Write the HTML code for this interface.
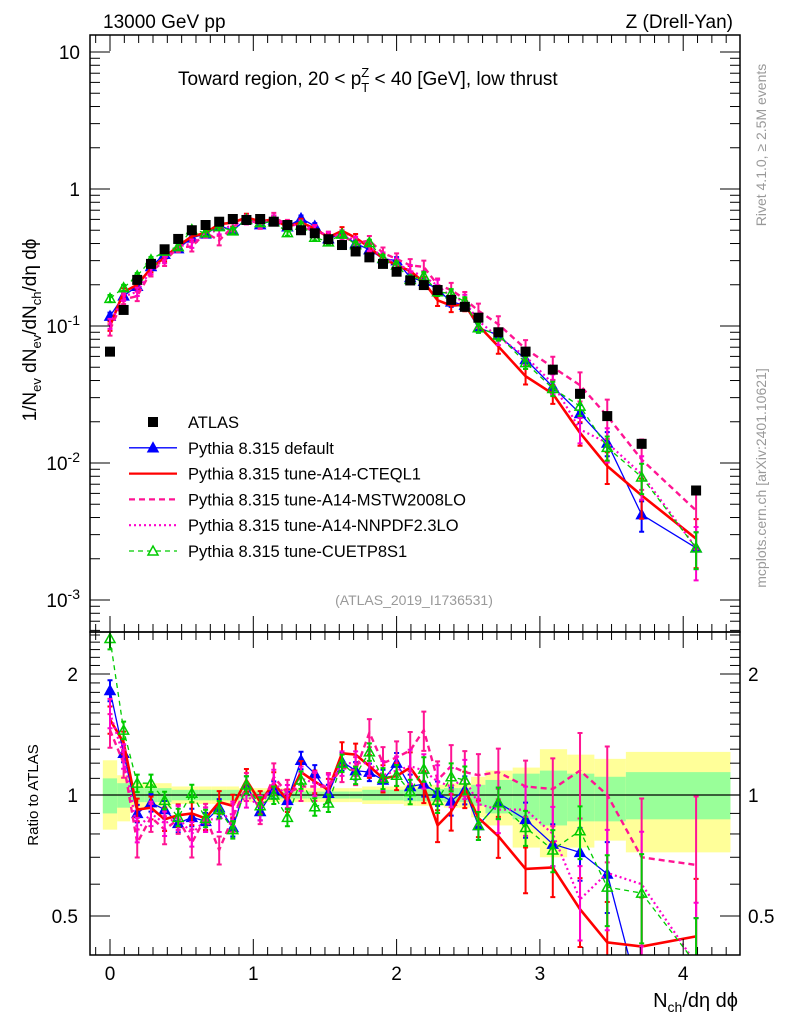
<!DOCTYPE html>
<html><head><meta charset="utf-8">
<style>
html,body{margin:0;padding:0;background:#fff;}
svg{display:block;font-family:"Liberation Sans",sans-serif;}
</style></head>
<body>
<svg id="chartSvg" width="786" height="1024" viewBox="0 0 786 1024">
<defs>
<clipPath id="clipMain"><rect x="90" y="35" width="650" height="597"/></clipPath>
<clipPath id="clipRatio"><rect x="90" y="632" width="650" height="323"/></clipPath>
</defs>
<g id="gBands" clip-path="url(#clipRatio)"></g>
<g id="gMain" clip-path="url(#clipMain)"></g>
<g id="gRatio" clip-path="url(#clipRatio)"></g>
<g id="gAxes"></g>
<text x="103" y="28" font-size="19">13000 GeV pp</text>
<text x="733" y="28" font-size="19" text-anchor="end">Z (Drell-Yan)</text>
<text x="178" y="85" font-size="19">Toward region, 20 &lt; p<tspan font-size="13" dy="7">T</tspan><tspan font-size="13" dx="-8" dy="-15">Z</tspan><tspan dy="8"> &lt; 40 [GeV], low thrust</tspan></text>
<text x="414" y="605" font-size="14" fill="#999" text-anchor="middle">(ATLAS_2019_I1736531)</text>
<text transform="translate(766,145) rotate(-90)" font-size="14" fill="#999" text-anchor="middle">Rivet 4.1.0, ≥ 2.5M events</text>
<text transform="translate(766,478) rotate(-90)" font-size="14" fill="#999" text-anchor="middle">mcplots.cern.ch [arXiv:2401.10621]</text>
<text transform="translate(36,330) rotate(-90)" font-size="19" text-anchor="middle">1/N<tspan font-size="13" dy="5">ev</tspan><tspan dy="-5"> dN</tspan><tspan font-size="13" dy="5">ev</tspan><tspan dy="-5">/dN</tspan><tspan font-size="13" dy="5">ch</tspan><tspan dy="-5">/dη dϕ</tspan></text>
<text transform="translate(38,795) rotate(-90)" font-size="15" text-anchor="middle">Ratio to ATLAS</text>
<text x="738" y="1007" font-size="20" text-anchor="end">N<tspan font-size="14" dy="5">ch</tspan><tspan dy="-5">/dη dϕ</tspan></text>
<g id="gLegend"></g>
</svg>
<script>
var xVals=[0,0.095,0.19,0.286,0.381,0.476,0.571,0.667,0.762,0.857,0.952,1.048,1.143,1.238,1.333,1.429,1.524,1.619,1.714,1.81,1.905,2.0,2.095,2.19,2.286,2.381,2.476,2.571,2.71,2.9,3.09,3.28,3.47,3.71,4.09];
var binEdges=[-0.05,0.05,0.14,0.24,0.33,0.43,0.52,0.62,0.71,0.81,0.9,1.0,1.1,1.19,1.29,1.38,1.48,1.57,1.67,1.76,1.86,1.95,2.05,2.14,2.24,2.33,2.43,2.52,2.62,2.81,3.0,3.19,3.38,3.6,3.88,4.33];
var atlas=[0.065,0.131,0.217,0.284,0.363,0.432,0.50,0.546,0.577,0.604,0.594,0.604,0.577,0.546,0.50,0.475,0.43,0.39,0.35,0.317,0.284,0.249,0.215,0.199,0.183,0.155,0.138,0.115,0.09,0.065,0.048,0.032,0.022,0.0138,0.0063];
var mcDefault=[0.118,0.166,0.195,0.272,0.334,0.367,0.44,0.47,0.537,0.501,0.60,0.55,0.594,0.53,0.61,0.537,0.434,0.472,0.40,0.361,0.31,0.30,0.226,0.212,0.185,0.150,0.142,0.097,0.086,0.057,0.036,0.023,0.014,0.0042,0.0024];
var mcCTEQ=[0.100,0.177,0.20,0.264,0.316,0.384,0.45,0.478,0.554,0.568,0.62,0.58,0.60,0.53,0.57,0.513,0.443,0.495,0.441,0.374,0.312,0.278,0.252,0.209,0.154,0.141,0.143,0.101,0.071,0.043,0.032,0.0166,0.0095,0.0058,0.0028];
var mcMSTW=[0.094,0.157,0.165,0.25,0.298,0.376,0.38,0.48,0.421,0.532,0.60,0.556,0.62,0.551,0.525,0.499,0.452,0.456,0.403,0.42,0.341,0.309,0.277,0.27,0.2,0.183,0.157,0.129,0.103,0.068,0.050,0.037,0.022,0.0106,0.0045];
var mcNNPDF=[0.104,0.164,0.178,0.256,0.309,0.38,0.40,0.475,0.502,0.544,0.594,0.562,0.60,0.541,0.55,0.508,0.452,0.468,0.42,0.38,0.318,0.286,0.254,0.229,0.198,0.163,0.152,0.109,0.083,0.060,0.038,0.0176,0.014,0.0083,0.0024];
var mcCUETP=[0.159,0.19,0.232,0.304,0.352,0.38,0.505,0.478,0.531,0.495,0.60,0.568,0.577,0.48,0.545,0.444,0.411,0.468,0.392,0.406,0.312,0.279,0.219,0.231,0.178,0.172,0.15,0.097,0.086,0.054,0.035,0.026,0.013,0.0079,0.0024];
var rDefault=[1.82,1.27,0.90,0.957,0.92,0.85,0.88,0.86,0.93,0.83,1.06,0.91,1.03,0.97,1.22,1.13,1.01,1.21,1.15,1.14,1.09,1.2,1.05,1.065,1.01,0.966,1.03,0.84,0.957,0.87,0.755,0.72,0.636,0.30,0.38];
var rCTEQ=[1.54,1.35,0.92,0.93,0.87,0.89,0.90,0.875,0.96,0.94,1.09,0.96,1.07,0.97,1.14,1.08,1.03,1.27,1.26,1.18,1.10,1.115,1.17,1.05,0.84,0.91,1.035,0.877,0.79,0.655,0.66,0.52,0.43,0.42,0.445];
var rMSTW=[1.45,1.2,0.76,0.88,0.82,0.87,0.76,0.88,0.73,0.88,1.05,0.92,1.11,1.01,1.05,1.05,1.05,1.17,1.15,1.43,1.2,1.24,1.29,1.45,1.09,1.18,1.14,1.12,1.14,1.05,1.035,1.15,1.0,0.70,0.67];
var rNNPDF=[1.6,1.25,0.82,0.9,0.85,0.88,0.8,0.87,0.87,0.9,1.0,0.93,1.08,0.99,1.1,1.07,1.05,1.2,1.2,1.2,1.12,1.15,1.18,1.15,1.08,1.05,1.1,0.95,0.92,0.92,0.8,0.55,0.64,0.6,0.38];
var rCUETP=[2.45,1.45,1.07,1.07,0.97,0.88,1.01,0.875,0.92,0.82,1.06,0.94,1.0,0.88,1.09,0.935,0.955,1.2,1.12,1.28,1.10,1.12,1.02,1.16,0.97,1.11,1.09,0.84,0.957,0.83,0.73,0.815,0.59,0.57,0.38];
var relErr=[0.06,0.05,0.05,0.05,0.05,0.05,0.05,0.05,0.05,0.05,0.05,0.05,0.05,0.05,0.05,0.05,0.05,0.05,0.05,0.05,0.06,0.06,0.07,0.07,0.07,0.08,0.08,0.08,0.09,0.1,0.12,0.15,0.2,0.25,0.3];
var yellowHi=[1.22,1.12,1.07,1.07,1.07,1.05,1.05,1.05,1.05,1.05,1.04,1.04,1.04,1.04,1.04,1.04,1.04,1.04,1.04,1.05,1.05,1.05,1.06,1.06,1.06,1.07,1.07,1.11,1.15,1.17,1.30,1.26,1.23,1.28,1.28];
var yellowLo=[0.82,0.86,0.93,0.93,0.93,0.95,0.95,0.95,0.95,0.95,0.96,0.96,0.96,0.96,0.96,0.96,0.96,0.96,0.96,0.95,0.95,0.95,0.94,0.94,0.94,0.93,0.93,0.88,0.84,0.74,0.70,0.74,0.77,0.72,0.72];
var greenHi=[1.10,1.07,1.04,1.04,1.04,1.03,1.03,1.03,1.03,1.03,1.02,1.02,1.02,1.02,1.02,1.02,1.02,1.02,1.02,1.03,1.03,1.03,1.035,1.035,1.035,1.04,1.04,1.06,1.09,1.13,1.15,1.13,1.11,1.14,1.14];
var greenLo=[0.90,0.93,0.96,0.96,0.96,0.97,0.97,0.97,0.97,0.97,0.98,0.98,0.98,0.98,0.98,0.98,0.98,0.98,0.98,0.97,0.97,0.97,0.965,0.965,0.965,0.96,0.96,0.94,0.90,0.87,0.84,0.86,0.86,0.87,0.87];
var xTicks=[0,1,2,3,4];
var mainTickVals=[10,1,0.1,0.01,0.001];
var ratioTickVals=[2,1,0.5];

var SVGNS='http://www.w3.org/2000/svg';
var pL=90,pR=740,pT=35,pMB=632,pRB=955;
function xScale(v){return 110+v*143.3;}
function yMain(v){return 189-137*Math.log10(v);}
function yRatio(v){return 795-174.6*Math.log(v);}
function makeEl(tag,attrs,parent){var el=document.createElementNS(SVGNS,tag);for(var k in attrs){el.setAttribute(k,attrs[k]);}parent.appendChild(el);return el;}
var gBands=document.getElementById('gBands'),gMain=document.getElementById('gMain'),gRatio=document.getElementById('gRatio'),gAxes=document.getElementById('gAxes'),gLegend=document.getElementById('gLegend');

function drawBands(){
 for(var i=0;i<xVals.length;i++){
  var x0=xScale(binEdges[i]),x1=xScale(binEdges[i+1]);
  var yb=makeEl('rect',{x:x0,y:yRatio(yellowHi[i]),width:x1-x0,height:yRatio(yellowLo[i])-yRatio(yellowHi[i]),fill:'#ffff99'},gBands);
  
  
  var gb=makeEl('rect',{x:x0,y:yRatio(greenHi[i]),width:x1-x0,height:yRatio(greenLo[i])-yRatio(greenHi[i]),fill:'#99ff99'},gBands);
  
  
 }
 var ref=makeEl('line',{x1:pL,x2:pR,y1:yRatio(1),y2:yRatio(1),stroke:'#000','stroke-width':1.2},gBands);
 
 
}
var seriesList=[
 {name:'default',main:mcDefault,r:rDefault,col:'#0000ff',w:1.3,dash:'none',marker:'tri',ef:1},
 {name:'cteql1',main:mcCTEQ,r:rCTEQ,col:'#ff0000',w:2.6,dash:'none',marker:'',ef:1.3},
 {name:'mstw2008lo',main:mcMSTW,r:rMSTW,col:'#ff1493',w:2.4,dash:'6,4',marker:'',ef:1.6},
 {name:'nnpdf23lo',main:mcNNPDF,r:rNNPDF,col:'#ff00cc',w:2.2,dash:'2,3',marker:'',ef:1.4},
 {name:'cuetp8s1',main:mcCUETP,r:rCUETP,col:'#00cc00',w:1.3,dash:'5,4',marker:'otri',ef:1}
];
function drawSeries(s,vals,yFn,parent,label){
 var g=makeEl('g',{},parent);
 
 
 var d='';
 for(var i=0;i<vals.length;i++){d+=(i?'L':'M')+xScale(xVals[i]).toFixed(1)+','+yFn(vals[i]).toFixed(1);}
 makeEl('path',{d:d,fill:'none',stroke:s.col,'stroke-width':s.w,'stroke-dasharray':s.dash},g);
 for(var j=0;j<vals.length;j++){
  var v=vals[j],er=relErr[j]*s.ef,x=xScale(xVals[j]);
  var ya=yFn(v*(1+er)),yb=yFn(Math.max(v*(1-er),1e-6));
  makeEl('path',{d:'M'+x+','+ya+'V'+yb+'M'+(x-2.5)+','+ya+'h5M'+(x-2.5)+','+yb+'h5',stroke:s.col,'stroke-width':2,fill:'none'},g);
  if(s.marker){
   var yy=yFn(v);
   var tri=makeEl('path',{d:'M'+(x-5)+','+(yy+4)+'L'+(x+5)+','+(yy+4)+'L'+x+','+(yy-5)+'Z',fill:(s.marker==='tri'?s.col:'none'),stroke:s.col,'stroke-width':1.5},g);
   
   
  }
 }
}
function drawData(){
 for(var k=0;k<seriesList.length;k++){drawSeries(seriesList[k],seriesList[k].main,yMain,gMain,'main');}
 for(var k2=0;k2<seriesList.length;k2++){drawSeries(seriesList[k2],seriesList[k2].r,yRatio,gRatio,'ratio');}
 var gAt=makeEl('g',{},gMain);
 
 
 for(var i=0;i<atlas.length;i++){
  var r=makeEl('rect',{x:xScale(xVals[i])-5,y:yMain(atlas[i])-5,width:10,height:10,fill:'#000'},gAt);
  
  
 }
}
function drawAxes(){
 var frames=[[pT,pMB],[pMB,pRB]];
 for(var f=0;f<2;f++){
  var fr=makeEl('rect',{x:pL,y:frames[f][0],width:pR-pL,height:frames[f][1]-frames[f][0],fill:'none',stroke:'#000','stroke-width':1.5},gAxes);
  
  
 }
 for(var n=-1;n<=44;n++){
  var vv=n/10,x=xScale(vv);
  if(x<pL||x>pR)continue;
  var len=(n%10===0)?16:8;
  makeEl('line',{x1:x,x2:x,y1:pT,y2:pT+len,stroke:'#000'},gAxes);
  makeEl('line',{x1:x,x2:x,y1:pMB,y2:pMB+len,stroke:'#000'},gAxes);
  makeEl('line',{x1:x,x2:x,y1:pMB,y2:pMB-len,stroke:'#000'},gAxes);
  makeEl('line',{x1:x,x2:x,y1:pRB,y2:pRB-len,stroke:'#000'},gAxes);
 }
 for(var t=0;t<xTicks.length;t++){
  var tx=makeEl('text',{x:xScale(xTicks[t]),y:980,'font-size':19,'text-anchor':'middle'},gAxes);
  tx.textContent=String(xTicks[t]);
  
  
 }
 for(var e=-4;e<=1;e++){for(var m=1;m<10;m++){
  var y=yMain(m*Math.pow(10,e));
  if(y<pT||y>pMB)continue;
  var l2=(m===1)?20:10;
  makeEl('line',{x1:pL,x2:pL+l2,y1:y,y2:y,stroke:'#000'},gAxes);
  makeEl('line',{x1:pR,x2:pR-l2,y1:y,y2:y,stroke:'#000'},gAxes);
 }}
 for(var q=0;q<mainTickVals.length;q++){
  var ex=Math.round(Math.log10(mainTickVals[q]));
  var ty=makeEl('text',{x:80,y:yMain(mainTickVals[q])+7,'font-size':19,'text-anchor':'end'},gAxes);
  
  
  if(ex===1){ty.textContent='10';}
  else if(ex===0){ty.textContent='1';}
  else{ty.textContent='10';var sp=makeEl('tspan',{dy:-8,'font-size':14},ty);sp.textContent=String(ex);}
 }
 var rt=[0.4,0.5,0.6,0.7,0.8,0.9,1,1.1,1.2,1.3,1.4,1.5,1.6,1.7,1.8,1.9,2,2.1,2.2,2.3,2.4,2.5];
 for(var a=0;a<rt.length;a++){
  var ry=yRatio(rt[a]);
  if(ry<pMB||ry>pRB)continue;
  var big=(rt[a]===0.5||rt[a]===1||rt[a]===2);
  var l3=big?20:10;
  makeEl('line',{x1:pL,x2:pL+l3,y1:ry,y2:ry,stroke:'#000'},gAxes);
  makeEl('line',{x1:pR,x2:pR-l3,y1:ry,y2:ry,stroke:'#000'},gAxes);
 }
 for(var b=0;b<ratioTickVals.length;b++){
  var lt=makeEl('text',{x:78,y:yRatio(ratioTickVals[b])+7,'font-size':19,'text-anchor':'end'},gAxes);
  lt.textContent=String(ratioTickVals[b]);
  
  
  var rtl=makeEl('text',{x:748,y:yRatio(ratioTickVals[b])+7,'font-size':19,'text-anchor':'start'},gAxes);
  rtl.textContent=String(ratioTickVals[b]);
  
  
 }
}
function drawLegend(){
 var labels=['ATLAS','Pythia 8.315 default','Pythia 8.315 tune-A14-CTEQL1','Pythia 8.315 tune-A14-MSTW2008LO','Pythia 8.315 tune-A14-NNPDF2.3LO','Pythia 8.315 tune-CUETP8S1'];
 for(var i=0;i<labels.length;i++){
  var y=422+i*25.8;
  var g=makeEl('g',{},gLegend);
  
  
  if(i===0){makeEl('rect',{x:148,y:y-5,width:10,height:10,fill:'#000'},g);}
  else{
   var s=seriesList[i-1];
   makeEl('line',{x1:129,x2:177,y1:y,y2:y,stroke:s.col,'stroke-width':Math.min(s.w,2.2),'stroke-dasharray':s.dash},g);
   if(s.marker){makeEl('path',{d:'M148,'+(y+4)+'L158,'+(y+4)+'L153,'+(y-5)+'Z',fill:(s.marker==='tri'?s.col:'#fff'),stroke:s.col,'stroke-width':1.5},g);}
  }
  var tx=makeEl('text',{x:188,y:y+6,'font-size':16.5},g);
  tx.textContent=labels[i];
 }
}
try{drawBands();}catch(err){console.log(err);}
try{drawData();}catch(err){console.log(err);}
try{drawAxes();}catch(err){console.log(err);}
try{drawLegend();}catch(err){console.log(err);}
</script>
</body></html>
